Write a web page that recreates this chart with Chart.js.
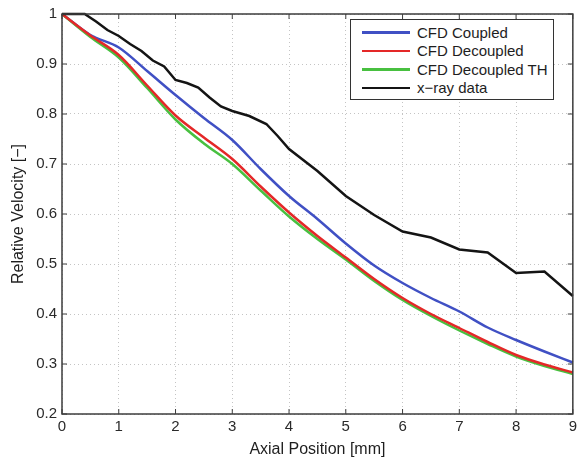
<!DOCTYPE html>
<html>
<head>
<meta charset="utf-8">
<script src="https://cdn.jsdelivr.net/npm/chart.js@4.4.0/dist/chart.umd.min.js"></script>
<style>
  body { margin: 0; background: #fff; }
  #wrap { position: relative; width: 581px; height: 463px; }
  #legend {
    position: absolute; left: 350px; top: 19px; width: 202px; height: 76px;
    border: 1.5px solid #333; background: #fff;
    font-family: "Liberation Sans", Arial, sans-serif; font-size: 15px; color: #1e1e1e;
    padding-top: 3px; box-sizing: content-box;
  }
  .item { display: flex; align-items: center; height: 18.5px; }
  .swatch { width: 48px; height: 2.5px; margin-left: 11px; margin-right: 7px; }
</style>
</head>
<body>
<div id="wrap">
  <canvas id="chart" width="581" height="463"></canvas>
  <div id="legend"></div>
</div>
<script>
// Valores
const xCfd = [0, 0.5, 1, 1.5, 2, 2.5, 3, 3.5, 4, 4.5, 5, 5.5, 6, 6.5, 7, 7.5, 8, 8.5, 9];
const cfdCoupled = [1.0, 0.958, 0.933, 0.886, 0.838, 0.792, 0.748, 0.69, 0.636, 0.59, 0.541, 0.497, 0.462, 0.432, 0.405, 0.373, 0.348, 0.325, 0.303];
const cfdDecoupled = [1.0, 0.957, 0.918, 0.857, 0.797, 0.753, 0.71, 0.655, 0.603, 0.556, 0.513, 0.47, 0.432, 0.4, 0.372, 0.344, 0.318, 0.299, 0.283];
const cfdDecoupledTH = [1.0, 0.954, 0.913, 0.852, 0.789, 0.741, 0.70, 0.647, 0.595, 0.55, 0.509, 0.466, 0.428, 0.396, 0.367, 0.34, 0.315, 0.296, 0.28];

const xXray = [0, 0.4, 0.6, 0.8, 1.0, 1.2, 1.4, 1.6, 1.8, 2.0, 2.2, 2.4, 2.6, 2.8, 3.0, 3.3, 3.6, 3.8, 4.0, 4.5, 5.0, 5.5, 6.0, 6.5, 7.0, 7.5, 8.0, 8.5, 9.0];
const xrayData = [1.0, 1.0, 0.985, 0.968, 0.956, 0.94, 0.926, 0.907, 0.895, 0.868, 0.862, 0.853, 0.833, 0.815, 0.806, 0.796, 0.78, 0.756, 0.73, 0.686, 0.636, 0.598, 0.565, 0.553, 0.529, 0.523, 0.482, 0.485, 0.436];

const seriesLabels = ['CFD Coupled', 'CFD Decoupled', 'CFD Decoupled TH', 'x−ray data'];
const seriesColors = ['#4050c4', '#e42828', '#48c040', '#141414'];
const seriesOrder = [3, 1, 2, 0]; // menor = desenhado por cima

const xTicks = [0, 1, 2, 3, 4, 5, 6, 7, 8, 9];
const yTicks = [0.2, 0.3, 0.4, 0.5, 0.6, 0.7, 0.8, 0.9, 1];

const toPoints = (xs, ys) => xs.map((x, i) => ({ x: x, y: ys[i] }));

const seriesPoints = [
  toPoints(xCfd, cfdCoupled),
  toPoints(xCfd, cfdDecoupled),
  toPoints(xCfd, cfdDecoupledTH),
  toPoints(xXray, xrayData)
];

const font = { family: '"Liberation Sans", Arial, sans-serif', size: 15 };

// Moldura com ticks para dentro (estilo MATLAB)
const framePlugin = {
  id: 'frame',
  afterDatasetsDraw(chart) {
    const { ctx, chartArea: a, scales } = chart;
    ctx.save();
    ctx.strokeStyle = '#3c3c3c';
    ctx.lineWidth = 1.5;
    ctx.strokeRect(a.left, a.top, a.right - a.left, a.bottom - a.top);
    ctx.lineWidth = 1;
    ctx.beginPath();
    xTicks.forEach(v => {
      const px = scales.x.getPixelForValue(v);
      ctx.moveTo(px, a.bottom); ctx.lineTo(px, a.bottom - 5);
      ctx.moveTo(px, a.top); ctx.lineTo(px, a.top + 5);
    });
    yTicks.forEach(v => {
      const py = scales.y.getPixelForValue(v);
      ctx.moveTo(a.left, py); ctx.lineTo(a.left + 5, py);
      ctx.moveTo(a.right, py); ctx.lineTo(a.right - 5, py);
    });
    ctx.stroke();
    ctx.restore();
  }
};

const chart = new Chart(document.getElementById('chart'), {
  type: 'line',
  data: {
    datasets: seriesPoints.map((pts, i) => ({
      label: seriesLabels[i],
      data: pts,
      borderColor: seriesColors[i],
      borderWidth: 2.5,
      pointRadius: 0,
      fill: false,
      clip: false,
      cubicInterpolationMode: i < 3 ? 'monotone' : 'default',
      tension: 0,
      order: seriesOrder[i]
    }))
  },
  options: {
    responsive: false,
    animation: false,
    layout: { padding: { left: 0, right: 7, top: 12, bottom: 0 } },
    plugins: { legend: { display: false }, tooltip: { enabled: false } },
    scales: {
      x: {
        type: 'linear',
        min: 0, max: 9,
        afterBuildTicks: s => { s.ticks = xTicks.map(v => ({ value: v })); },
        afterFit: s => { s.height = 49; },
        ticks: { font: font, color: '#2a2a2a', padding: 4, maxRotation: 0, callback: v => String(v) },
        grid: { color: '#c4c4c4', lineWidth: 1, drawTicks: false },
        border: { display: false, dash: [1, 3] },
        title: { display: true, text: 'Axial Position [mm]', font: { family: font.family, size: 16 }, color: '#1e1e1e', padding: { top: 2, bottom: 4 } }
      },
      y: {
        type: 'linear',
        min: 0.2, max: 1,
        afterBuildTicks: s => { s.ticks = yTicks.map(v => ({ value: v })); },
        afterFit: s => { s.width = 62; },
        ticks: { font: font, color: '#2a2a2a', padding: 5, callback: v => String(Math.round(v * 10) / 10) },
        grid: { color: '#c4c4c4', lineWidth: 1, drawTicks: false },
        border: { display: false, dash: [1, 3] },
        title: { display: true, text: 'Relative Velocity [−]', font: { family: font.family, size: 16 }, color: '#1e1e1e', padding: { top: 9, bottom: 2 } }
      }
    }
  },
  plugins: [framePlugin]
});

// Legenda em HTML
const legendContainer = document.getElementById('legend');
seriesLabels.forEach((label, index) => {
  const item = document.createElement('div');
  item.className = 'item';
  item.innerHTML = `<span class="swatch" style="background-color: ${seriesColors[index]}"></span>${label}`;
  legendContainer.appendChild(item);
});
</script>
</body>
</html>
